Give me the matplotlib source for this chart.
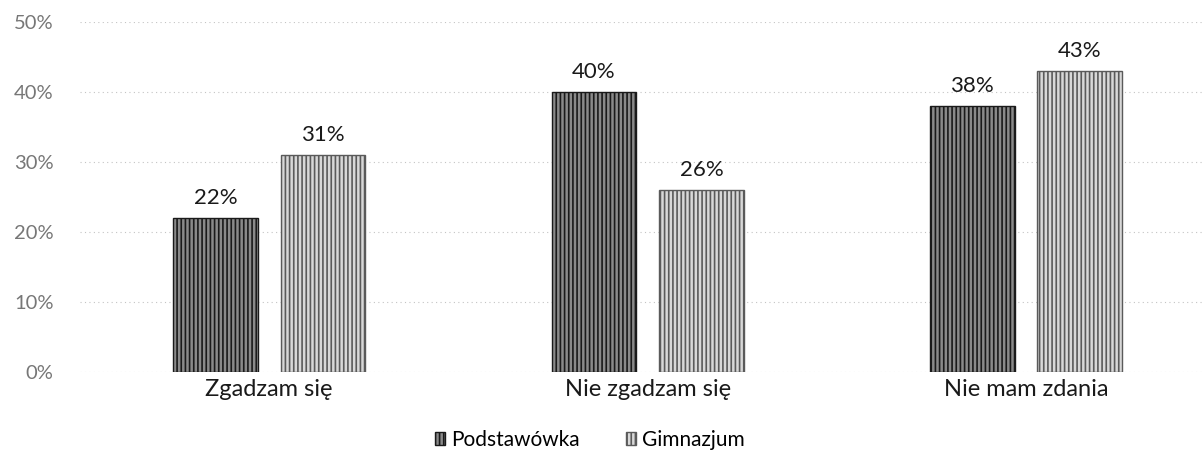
import matplotlib
matplotlib.use("Agg")
import matplotlib.pyplot as plt
import numpy as np

categories = ["Zgadzam się", "Nie zgadzam się", "Nie mam zdania"]
series_names = ["Podstawówka", "Gimnazjum"]
podstawowka = [22, 40, 38]
gimnazjum = [31, 26, 43]
yticks = [0, 10, 20, 30, 40, 50]

plt.rcParams['font.family'] = ['Lato', 'DejaVu Sans']
plt.rcParams['hatch.linewidth'] = 1.2

fig = plt.figure(figsize=(12.04, 4.55), dpi=100)
ax = fig.add_axes([80/1204, 83/455, 1 - 80/1204, 350/455])

x = np.arange(len(categories))
w = 0.224
off = 0.142
b1 = ax.bar(x - off, podstawowka, w, facecolor='#8a8a8a', edgecolor='#1a1a1a',
            hatch='||||', linewidth=1.0, label=series_names[0], zorder=3)
b2 = ax.bar(x + off, gimnazjum, w, facecolor='#d8d8d8', edgecolor='#5a5a5a',
            hatch='||||', linewidth=1.0, label=series_names[1], zorder=3)

for bars, vals in ((b1, podstawowka), (b2, gimnazjum)):
    for r, v in zip(bars, vals):
        ax.annotate(f"{v}%", (r.get_x() + r.get_width()/2, v), xytext=(0, 7),
                    textcoords='offset points', ha='center', va='bottom',
                    fontsize=16, color='#1a1a1a')

ax.set_xlim(-0.5, 2.47)
ax.set_ylim(0, 50)
ax.set_yticks(yticks)
ax.set_yticklabels([f"{t}%" for t in yticks], color='#777777', fontsize=14.5)
ax.set_xticks(x)
ax.set_xticklabels(categories, fontsize=17, color='#1a1a1a')
ax.tick_params(axis='both', length=0)
ax.tick_params(axis='y', pad=19)
ax.tick_params(axis='x', pad=5)
for s in ax.spines.values():
    s.set_visible(False)
ax.yaxis.grid(True, color='#c4c4c4', linestyle=(0, (1, 3)), linewidth=0.8, zorder=0)
ax.set_axisbelow(True)

fig.legend(handles=[b1, b2], labels=series_names, loc='lower center',
           bbox_to_anchor=(0.49, -0.03), ncol=2, frameon=False, fontsize=15,
           handlelength=0.5, handleheight=0.6, handletextpad=0.3, columnspacing=2.2)

fig.savefig("out.png", dpi=100)
